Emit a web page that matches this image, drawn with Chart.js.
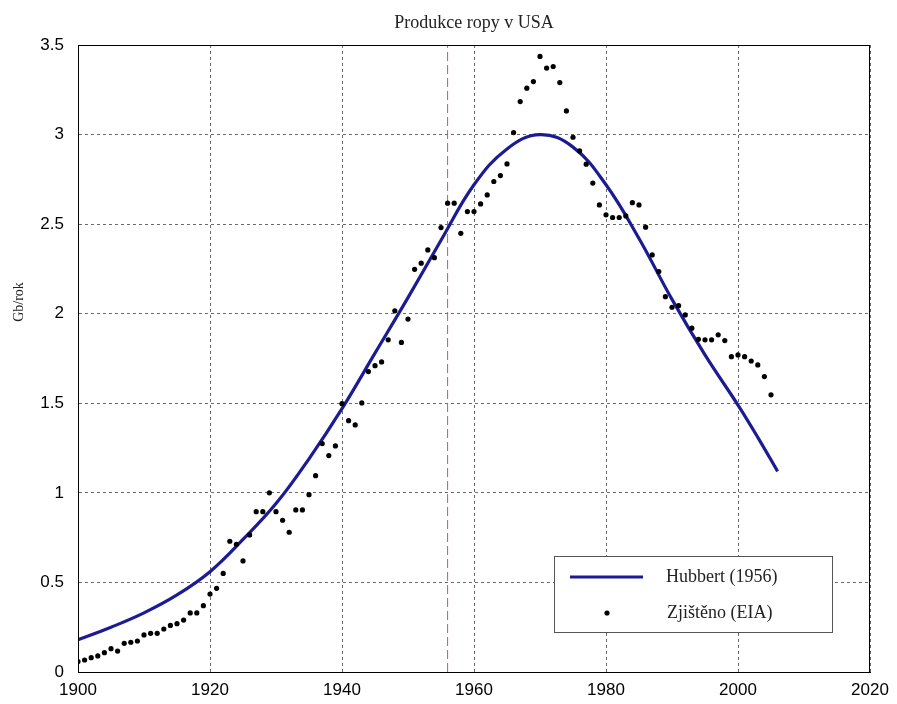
<!DOCTYPE html>
<html>
<head>
<meta charset="utf-8">
<script src="https://cdn.jsdelivr.net/npm/chart.js@4/dist/chart.umd.min.js"></script>
<style>
  html, body { margin: 0; padding: 0; background: #fff; }
  #wrap { width: 897px; height: 704px; }
</style>
</head>
<body>
<div id="wrap"><canvas id="c" width="897" height="704"></canvas></div>
<script>
// ---- Data ----
const chartTitle = 'Produkce ropy v USA';
const yTitle = 'Gb/rok';
const hubbertLabel = 'Hubbert (1956)';
const obsLabel = 'Zjištěno (EIA)';

// Hubbert prediction (Gb/year), read at these years
const hubbertYears = [1900, 1905, 1910, 1915, 1920, 1925, 1930, 1935, 1940, 1945, 1950, 1955,
                      1960, 1965, 1970, 1975, 1980, 1985, 1990, 1995, 2000, 2003, 2006];
const hubbertValues = [0.18, 0.25, 0.33, 0.43, 0.56, 0.74, 0.94, 1.19, 1.47, 1.78, 2.09, 2.41,
                       2.72, 2.92, 3.00, 2.93, 2.72, 2.42, 2.08, 1.77, 1.49, 1.31, 1.12];

// observed production (EIA), one value per year from 1900
const obsFirstYear = 1900;
const obsValues = [
  0.058, 0.067, 0.08, 0.09, 0.108, 0.13, 0.117, 0.16, 0.166, 0.173,      // 1900-1909
  0.207, 0.216, 0.216, 0.24, 0.26, 0.27, 0.29, 0.33, 0.33, 0.37,         // 1910-1919
  0.435, 0.467, 0.55, 0.73, 0.713, 0.62, 0.765, 0.895, 0.895, 1.0,       // 1920-1929
  0.895, 0.847, 0.78, 0.905, 0.905, 0.99, 1.096, 1.275, 1.208, 1.262,    // 1930-1939
  1.498, 1.403, 1.379, 1.502, 1.677, 1.71, 1.731, 1.854, 2.016, 1.84,    // 1940-1949
  1.97, 2.248, 2.282, 2.356, 2.313, 2.481, 2.617, 2.617, 2.449, 2.57,    // 1950-1959
  2.57, 2.613, 2.663, 2.738, 2.771, 2.836, 3.011, 3.184, 3.259, 3.296,   // 1960-1969
  3.436, 3.371, 3.38, 3.29, 3.132, 2.985, 2.909, 2.835, 2.729, 2.607,    // 1970-1979
  2.552, 2.537, 2.537, 2.546, 2.62, 2.607, 2.483, 2.328, 2.235, 2.095,   // 1980-1989
  2.036, 2.045, 1.993, 1.919, 1.857, 1.854, 1.854, 1.882, 1.85, 1.76,    // 1990-1999
  1.77, 1.76, 1.736, 1.714, 1.649, 1.547                                 // 2000-2005
];

const markerYear = 1956;   // red dashed line (year of Hubbert's prediction)
const xTicks = [1900, 1920, 1940, 1960, 1980, 2000, 2020];
const yTicks = [0, 0.5, 1, 1.5, 2, 2.5, 3, 3.5];

const COLORS = {
  hubbert: '#1b1b94',
  obs: '#000000',
  marker: '#d9534f',
  grid: '#6a6a6a'
};

const serif = '"Liberation Serif", "DejaVu Serif", serif';
const sans = '"Liberation Sans", Arial, sans-serif';

// ---- build datasets ----
const hubbertData = hubbertYears.map((y, i) => ({ x: y, y: hubbertValues[i] }));
const obsData = obsValues.map((v, i) => ({ x: obsFirstYear + i, y: v }));
const markerData = [{ x: markerYear, y: yTicks[0] }, { x: markerYear, y: yTicks[yTicks.length - 1] }];

// frame, title, y title and legend box
const decorPlugin = {
  id: 'decor',
  afterDraw(chart) {
    const { ctx, chartArea: a } = chart;
    ctx.save();
    // frame round the plot
    ctx.strokeStyle = '#000';
    ctx.lineWidth = 1;
    ctx.strokeRect(a.left + 0.5, a.top + 0.5, a.right - a.left - 1, a.bottom - a.top);

    // title
    ctx.fillStyle = '#222';
    ctx.font = '18px ' + serif;
    ctx.textAlign = 'center';
    ctx.textBaseline = 'middle';
    ctx.fillText(chartTitle, (a.left + a.right) / 2, a.top - 22);

    // y axis title
    ctx.save();
    ctx.translate(a.left - 59, a.top + 257);
    ctx.rotate(-Math.PI / 2);
    ctx.font = '14px ' + serif;
    ctx.fillText(yTitle, 0, 0);
    ctx.restore();

    // legend
    const bx = a.right - 316, by = a.bottom - 116, bw = 278, bh = 76;
    ctx.fillStyle = '#fff';
    ctx.fillRect(bx, by, bw, bh);
    ctx.strokeStyle = '#555';
    ctx.strokeRect(bx + 0.5, by + 0.5, bw, bh);

    ctx.strokeStyle = COLORS.hubbert;
    ctx.lineWidth = 3.2;
    ctx.beginPath();
    ctx.moveTo(bx + 16, by + 21);
    ctx.lineTo(bx + 89, by + 21);
    ctx.stroke();

    ctx.fillStyle = COLORS.obs;
    ctx.beginPath();
    ctx.arc(bx + 53, by + 57, 2.6, 0, Math.PI * 2);
    ctx.fill();

    ctx.fillStyle = '#222';
    ctx.font = '18px ' + serif;
    ctx.textAlign = 'left';
    ctx.fillText(hubbertLabel, bx + 112, by + 21);
    ctx.fillText(obsLabel, bx + 113, by + 57);
    ctx.restore();
  }
};

const config = {
  type: 'scatter',
  data: {
    datasets: [
      {
        label: 'marker',
        data: markerData,
        showLine: true,
        borderColor: COLORS.marker,
        borderWidth: 1,
        borderDash: [9, 4],
        pointRadius: 0,
        order: 3
      },
      {
        label: hubbertLabel,
        data: hubbertData,
        showLine: true,
        borderColor: COLORS.hubbert,
        borderWidth: 3.2,
        tension: 0.4,
        pointRadius: 0,
        order: 2
      },
      {
        label: obsLabel,
        data: obsData,
        showLine: false,
        backgroundColor: COLORS.obs,
        borderColor: COLORS.obs,
        pointRadius: 2.6,
        pointBorderWidth: 0,
        order: 1
      }
    ]
  },
  options: {
    responsive: false,
    animation: false,
    layout: { padding: { top: 45, right: 27, left: 0, bottom: 0 } },
    plugins: {
      legend: { display: false },
      title: { display: false },
      tooltip: { enabled: false }
    },
    scales: {
      x: {
        type: 'linear',
        min: xTicks[0],
        max: xTicks[xTicks.length - 1],
        afterBuildTicks: (s) => { s.ticks = xTicks.map(v => ({ value: v })); },
        afterFit: (s) => { s.height = 32; },
        ticks: {
          color: '#000',
          font: { family: sans, size: 17 },
          padding: 8,
          maxRotation: 0,
          callback: (v) => String(v)
        },
        grid: {
          color: COLORS.grid,
          drawTicks: false
        },
        border: { display: true, color: '#000', dash: [3, 3] }
      },
      y: {
        min: yTicks[0],
        max: yTicks[yTicks.length - 1],
        afterBuildTicks: (s) => { s.ticks = yTicks.map(v => ({ value: v })); },
        afterFit: (s) => { s.width = 78; },
        ticks: {
          color: '#000',
          font: { family: sans, size: 17 },
          padding: 14,
          callback: (v) => String(v)
        },
        grid: {
          color: COLORS.grid,
          drawTicks: false
        },
        border: { display: true, color: '#000', dash: [3, 3] }
      }
    }
  },
  plugins: [decorPlugin]
};

const ctx = document.getElementById('c').getContext('2d');
new Chart(ctx, config);
</script>
</body>
</html>
